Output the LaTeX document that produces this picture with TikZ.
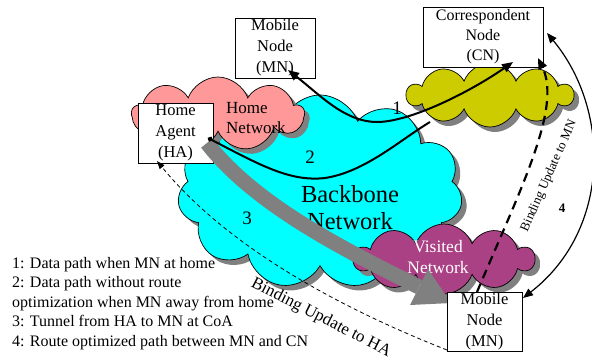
\documentclass[tikz,border=0pt]{standalone}
\usepackage{fontspec}
\setmainfont{Liberation Serif}
\usetikzlibrary{shapes.symbols,shadows,arrows.meta}
\definecolor{cyanc}{RGB}{0,255,255}
\definecolor{pinkc}{RGB}{255,153,153}
\definecolor{olivec}{RGB}{204,204,0}
\definecolor{purplec}{RGB}{170,65,133}
\definecolor{shadowc}{RGB}{128,128,128}
\begin{document}
\begin{tikzpicture}[x=1pt,y=-1pt,
  netcloud/.style={cloud, cloud puffs=#1, cloud puff arc=140, cloud ignores aspect, draw=black, line width=0.7pt, inner sep=0pt,
    drop shadow={shadow xshift=5pt, shadow yshift=-5pt, fill=shadowc, opacity=1}},
  box/.style={draw=black, fill=white, line width=0.8pt, inner sep=0pt, align=center,
    font=\fontsize{16.5}{21}\selectfont},
  lbl/.style={inner sep=0pt, font=\fontsize{19}{22}\selectfont},
  datapath/.style={line width=2pt},
]
\useasboundingbox (0,0) rectangle (592,360);

% clouds
\node[netcloud=11, fill=cyanc, minimum width=285pt, minimum height=194pt] (backbone) at (320,192) {};
\node[netcloud=9, fill=pinkc, minimum width=172pt, minimum height=74pt] (homenet) at (218,114) {};
\node[netcloud=10, fill=olivec, minimum width=166pt, minimum height=64pt] (cnnet) at (490,95) {};
\node[netcloud=10, fill=purplec, minimum width=180pt, minimum height=70pt] (visitnet) at (444,259) {};

% cloud labels
\node[inner sep=0pt, align=left, anchor=west, font=\fontsize{17}{20}\selectfont] (homelbl) at (226,118) {Home\\Network};
\node[inner sep=0pt, align=center, font=\fontsize{24.5}{27}\selectfont] (bblbl) at (350,208) {Backbone\\Network};
\node[inner sep=0pt, align=center, text=white, font=\fontsize{17.5}{21}\selectfont] (vislbl) at (438,257) {Visited\\Network};

% boxes
\node[box, minimum width=80pt, minimum height=60pt] (mnhome) at (275,48) {Mobile\\Node\\(MN)};
\node[box, minimum width=120pt, minimum height=60pt, font=\fontsize{16}{20}\selectfont] (cn) at (483,37) {Correspondent\\Node\\(CN)};
\node[box, minimum width=75pt, minimum height=60pt] (ha) at (175.5,133) {Home\\Agent\\(HA)};

% tunnel (3)
\coordinate (tunA) at (207,143);
\coordinate (tunB) at (419,287);
\coordinate (tunL) at (410,305);
\coordinate (tunR) at (428,269);
\coordinate (tunT) at (451,303);
\draw[line width=15pt, draw=shadowc] (tunA) .. controls (255,205) and (345,250) .. (tunB);
\fill[shadowc] (tunL) -- (tunT) -- (tunR) -- cycle;

\node[box, minimum width=75pt, minimum height=59pt] (mnvisit) at (484.5,321.5) {Mobile\\Node\\(MN)};

% path 1
\coordinate (p1a) at (288,70);
\coordinate (p1m) at (377,122);
\coordinate (p1b) at (513,62);
\draw[datapath, {Triangle[length=11pt,width=9pt]}-{Triangle[length=11pt,width=9pt]}]
  (p1a) .. controls (320,95) and (345,122) .. (p1m) .. controls (410,122) and (470,92) .. (p1b);

% path 2
\coordinate (p2a) at (208,138);
\coordinate (p2m) at (325,178);
\coordinate (p2b) at (430,122);
\draw[datapath, {Circle[length=5pt]}-]
  (p2a) .. controls (260,165) and (290,182) .. (p2m) .. controls (365,172) and (400,140) .. (p2b);

% binding update to HA
\coordinate (buhaA) at (447,350);
\coordinate (buhaB) at (157,161);
\draw[line width=0.8pt, dash pattern=on 4pt off 3pt, -{Triangle[length=8pt,width=6pt]}]
  (buhaA) .. controls (320,300) and (220,238) .. (buhaB);

% binding update to MN
\coordinate (bumnA) at (477,292);
\coordinate (bumnB) at (538,58);
\draw[line width=2.2pt, dash pattern=on 9pt off 6pt, -{Triangle[length=11pt,width=9pt]}]
  (bumnA) .. controls (520,190) and (562,108) .. (bumnB);

% path 4
\coordinate (p4a) at (547,33);
\coordinate (p4b) at (523,298);
\draw[line width=1.2pt, {Triangle[length=10pt,width=8pt]}-{Triangle[length=10pt,width=8pt]}]
  (p4a) .. controls (611,110) and (611,230) .. (p4b);

% labels
\node[lbl] (l1) at (397,108) {1};
\node[lbl] (l2) at (310,157) {2};
\node[lbl] (l3) at (247,218) {3};
\node[inner sep=0pt, font=\fontsize{13}{15}\selectfont\bfseries] (l4) at (562,208) {4};
\node[inner sep=0pt, rotate=-27, font=\fontsize{17}{20}\selectfont] (buhalbl) at (321,318) {Binding Update to HA};
\node[inner sep=0pt, rotate=66, font=\fontsize{13}{15}\selectfont] (bumnlbl) at (549,176) {Binding Update to MN};

% legend
\node[inner sep=0pt, align=left, anchor=north west, font=\fontsize{16}{19.5}\selectfont] (legend) at (12,257)
 {1: Data path when MN at home\\2: Data path without route\\optimization when MN away from home\\3: Tunnel from HA to MN at CoA\\4: Route optimized path between MN and CN};
\end{tikzpicture}
\end{document}
